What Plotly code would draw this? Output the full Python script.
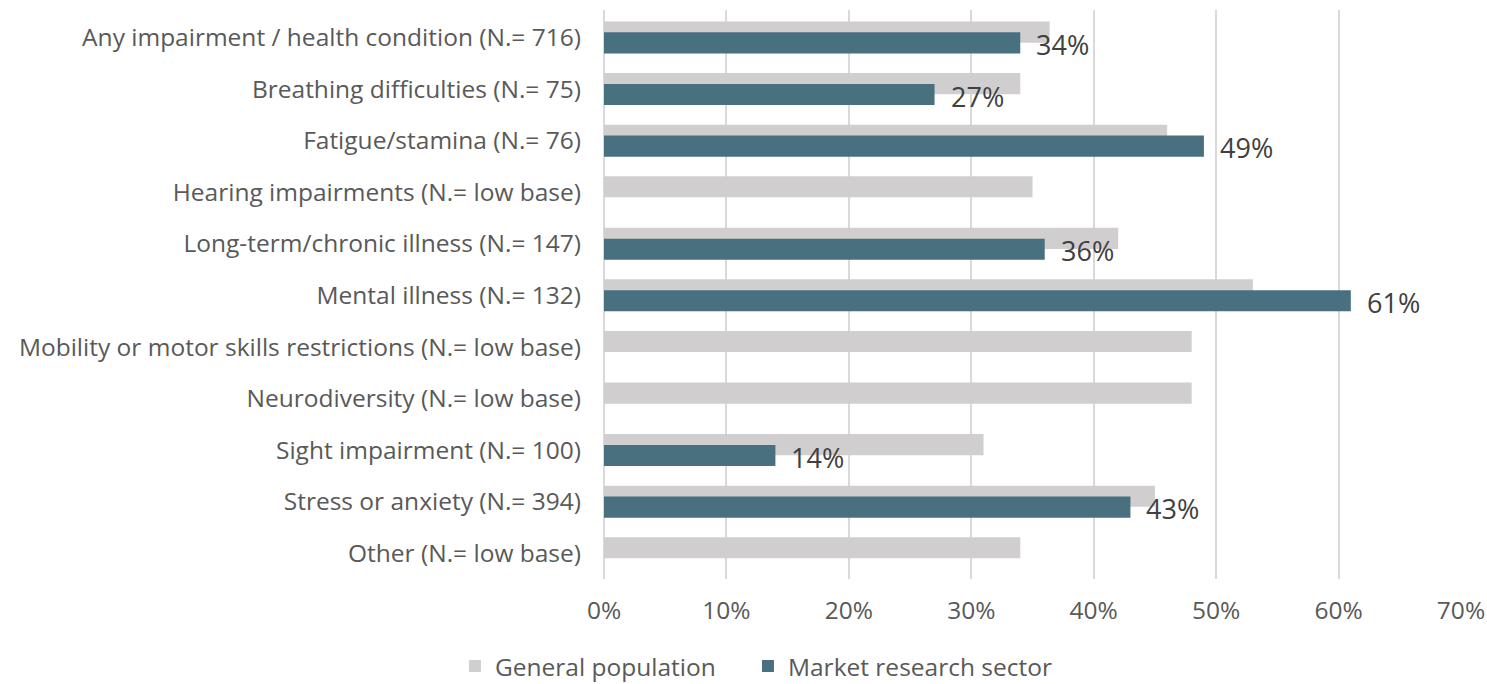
import plotly.graph_objects as go

categories = [
    "Any impairment / health condition (N.= 716)",
    "Breathing difficulties (N.= 75)",
    "Fatigue/stamina (N.= 76)",
    "Hearing impairments (N.= low base)",
    "Long-term/chronic illness (N.= 147)",
    "Mental illness (N.= 132)",
    "Mobility or motor skills restrictions (N.= low base)",
    "Neurodiversity (N.= low base)",
    "Sight impairment (N.= 100)",
    "Stress or anxiety (N.= 394)",
    "Other (N.= low base)",
]

general_population = [36.4, 34, 46, 35, 42, 53, 48, 48, 31, 45, 34]
market_research = [34, 27, 49, None, 36, 61, None, None, 14, 43, None]

x_ticks = [0, 10, 20, 30, 40, 50, 60, 70]
x_tick_labels = ["0%", "10%", "20%", "30%", "40%", "50%", "60%", "70%"]

FONT = "Open Sans"
GREY_TEXT = "#595959"

fig = go.Figure()

fig.add_trace(go.Bar(
    name="General population",
    y=categories,
    x=general_population,
    orientation="h",
    marker=dict(color="#D0CECE", line=dict(width=0)),
    width=0.41,
    offset=-0.31,
    legendwidth=248,
))

fig.add_trace(go.Bar(
    name="Market research sector",
    y=categories,
    x=market_research,
    orientation="h",
    marker=dict(color="#48707F", line=dict(width=0)),
    width=0.41,
    offset=-0.10,
    legendwidth=280,
))

# value labels to the right of the sector bars
for cat, val in zip(categories, market_research):
    if val is None:
        continue
    fig.add_annotation(
        x=val, y=cat, xref="x", yref="y",
        text=f"{val:.0f}%",
        showarrow=False,
        xanchor="left", yanchor="middle",
        xshift=14, yshift=-7,
        font=dict(family=FONT, size=27, color="#404040"),
    )

fig.update_layout(
    width=1487, height=684,
    margin=dict(l=604, r=26, t=10, b=105, autoexpand=False),
    paper_bgcolor="white",
    plot_bgcolor="white",
    barmode="overlay",
    font=dict(family=FONT, size=24.5, color=GREY_TEXT),
    showlegend=True,
    legend=dict(
        orientation="h",
        x=-0.1739, xanchor="left",
        y=-0.153, yanchor="middle",
        font=dict(family=FONT, size=24.5, color=GREY_TEXT),
        traceorder="normal",
        bgcolor="rgba(0,0,0,0)",
    ),
)

fig.update_xaxes(
    range=[0, 70],
    tickvals=x_ticks,
    ticktext=x_tick_labels,
    showgrid=True,
    gridcolor="#D9D9D9",
    gridwidth=1.5,
    zeroline=True,
    zerolinecolor="#D9D9D9",
    zerolinewidth=1.5,
    showline=False,
    ticks="",
    ticklabelstandoff=14,
    tickfont=dict(family=FONT, size=24.5, color=GREY_TEXT),
)

fig.update_yaxes(
    autorange="reversed",
    showgrid=False,
    showline=False,
    ticks="",
    ticklabelstandoff=22,
    tickfont=dict(family=FONT, size=24.5, color=GREY_TEXT),
)

fig.write_html("out.html")
